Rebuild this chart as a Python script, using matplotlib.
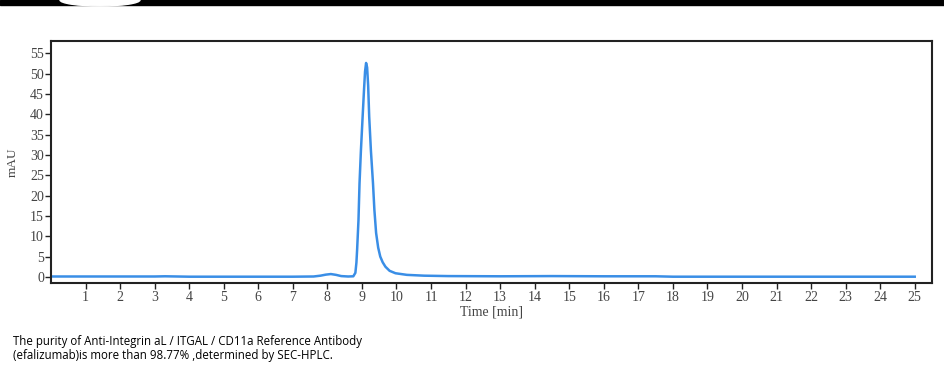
import matplotlib.pyplot as plt
from matplotlib.patches import Rectangle, Ellipse

# retention time (min) and absorbance (mAU)
time_min = [0.0, 1.0, 2.0, 3.0, 3.3, 4.0, 5.0, 6.0, 7.0, 7.6, 7.8, 7.95, 8.1, 8.25,
            8.4, 8.6, 8.75, 8.81, 8.84, 8.86, 8.9, 8.93, 8.97, 9.02, 9.06, 9.09,
            9.12, 9.15, 9.18, 9.21, 9.26, 9.32, 9.36, 9.41, 9.47, 9.53, 9.6,
            9.68, 9.8, 9.97, 10.3, 10.8, 11.5, 13.0, 14.5, 16.0,
            17.5, 18.0, 20.0, 22.0, 24.0, 25.0]
mau = [0.1, 0.1, 0.1, 0.1, 0.15, 0.05, 0.05, 0.05, 0.05, 0.1, 0.3, 0.55, 0.7, 0.5,
       0.2, 0.1, 0.15, 1.0, 3.5, 6.6, 14.0, 23.0, 31.0, 39.4, 46.0, 50.5,
       52.6, 51.5, 47.0, 39.4, 31.0, 23.0, 16.5, 10.8, 7.2, 5.0, 3.6,
       2.5, 1.5, 0.9, 0.5, 0.3, 0.2, 0.15, 0.2, 0.15,
       0.15, 0.05, 0.05, 0.05, 0.05, 0.05]

x_ticks = list(range(1, 26))
y_ticks = list(range(0, 56, 5))

caption = ("The purity of Anti-Integrin aL / ITGAL / CD11a Reference Antibody\n"
           "(efalizumab)is more than 98.77% ,determined by SEC-HPLC.")

fig = plt.figure(figsize=(9.45, 3.72), dpi=100)
fig.patch.set_facecolor('white')

ax = fig.add_axes([51 / 945, 1 - 283 / 372, (932 - 51) / 945, (283 - 41) / 372])
ax.plot(time_min, mau, color='#3a8ee6', lw=1.8, solid_joinstyle='round')

ax.set_xlim(0, 25.5)
ax.set_ylim(-1.5, 58)
ax.set_xticks(x_ticks)
ax.set_yticks(y_ticks)

serif = ['Liberation Serif', 'DejaVu Serif']
ax.tick_params(direction='out', length=4, width=1, colors='#222222',
               labelsize=10, labelcolor='#444444')
for lab in ax.get_xticklabels() + ax.get_yticklabels():
    lab.set_family(serif)
ax.tick_params(axis='y', pad=1)
ax.tick_params(axis='x', pad=2)

for s in ax.spines.values():
    s.set_linewidth(1.5)
    s.set_color('#222222')

ax.set_xlabel('Time [min]', family=serif, fontsize=10, color='#444444', labelpad=1)
ax.set_ylabel('mAU', family=serif, fontsize=9.5, color='#444444', labelpad=8)

fig.text(13 / 945, 1 - 335 / 372, caption, family=['Open Sans', 'DejaVu Sans'],
         fontsize=8.3, color='black', va='top', linespacing=1.15)

# black band along the top edge of the original screenshot
fig.patches.append(Rectangle((0, 1 - 5 / 372), 1, 5 / 372, transform=fig.transFigure,
                             color='black', zorder=5))
fig.patches.append(Ellipse((100 / 945, 1), 80 / 945, 12 / 372, transform=fig.transFigure,
                           color='white', zorder=6))

fig.savefig('out.png', dpi=100)
